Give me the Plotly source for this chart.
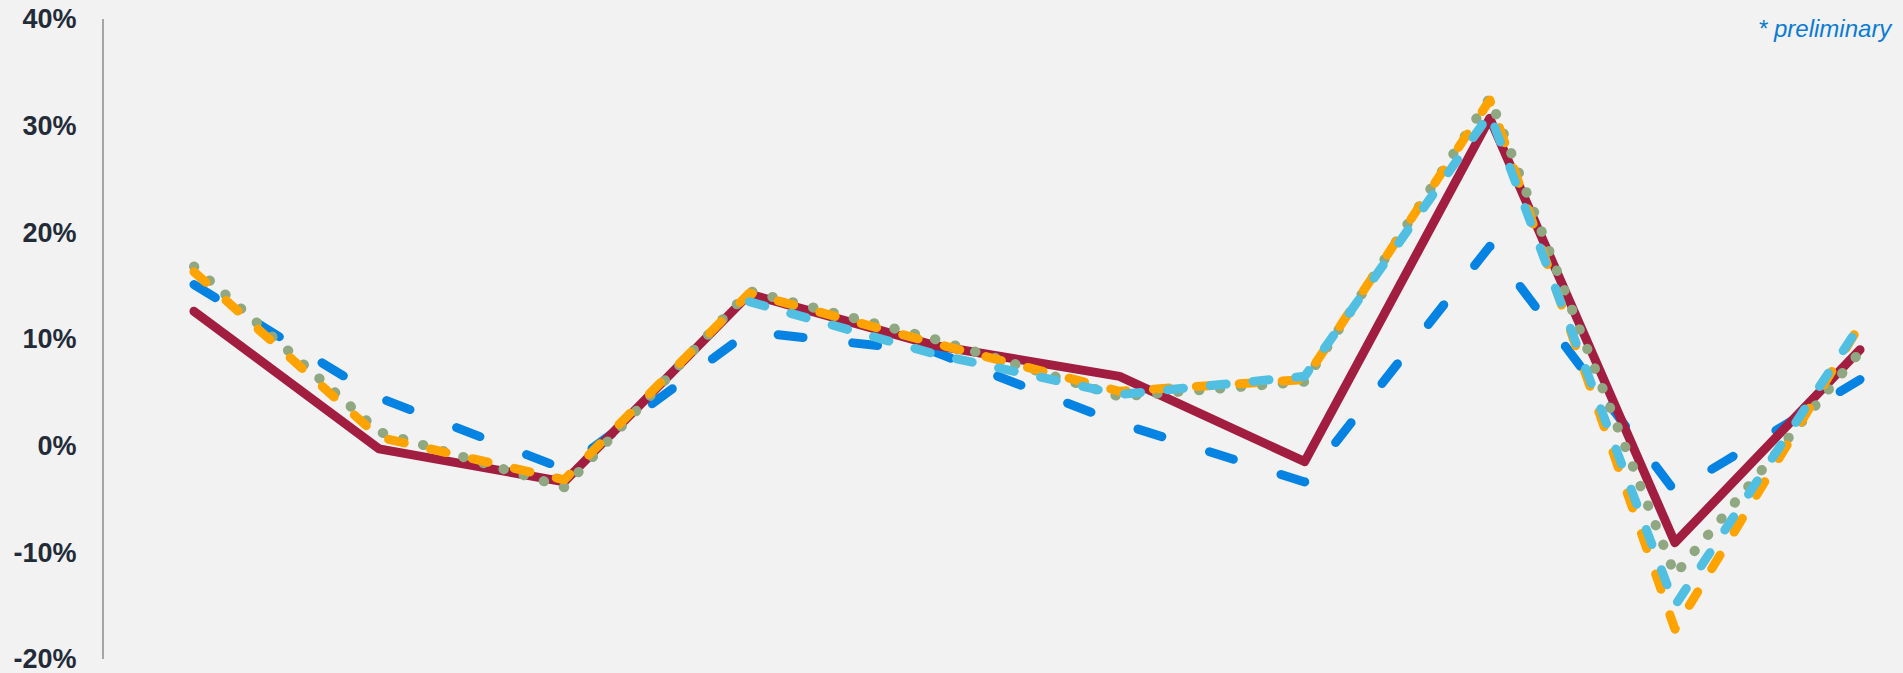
import plotly.graph_objects as go

# Data (percent values)
periods = list(range(10))
series_red = [12.6, -0.3, -3.4, 14.2, 9.4, 6.5, -1.5, 30.7, -9.1, 9.0]
series_blue = [15.1, 4.5, -2.2, 10.7, 8.8, 2.1, -3.4, 18.7, -4.3, 6.2]
series_green = [16.8, 1.3, -3.9, 14.5, 10.0, 4.6, 6.0, 32.6, -12.1, 8.8]
series_orange = [16.3, 0.8, -3.2, 14.3, 9.6, 5.1, 6.2, 32.4, -17.2, 11.3]
series_lightblue = [None, None, None, 13.5, 8.6, 4.8, 6.5, 31.1, -15.0, 11.3]

y_ticks = [-20, -10, 0, 10, 20, 30, 40]
y_tick_labels = ["-20%", "-10%", "0%", "10%", "20%", "30%", "40%"]

fig = go.Figure()

fig.add_trace(go.Scatter(x=periods, y=series_blue, mode="lines",
                         line=dict(color="#0583E2", width=9, dash="25px,50px"),
                         hoverinfo="skip", showlegend=False))
fig.add_trace(go.Scatter(x=periods, y=series_red, mode="lines",
                         line=dict(color="#A21E41", width=9),
                         hoverinfo="skip", showlegend=False))
fig.add_trace(go.Scatter(x=periods, y=series_green, mode="lines",
                         line=dict(color="#8FA882", width=10, dash="0.5px,20.5px"),
                         hoverinfo="skip", showlegend=False))
fig.add_trace(go.Scatter(x=periods, y=series_orange, mode="lines",
                         line=dict(color="#FFA300", width=9, dash="16px,27px"),
                         hoverinfo="skip", showlegend=False))
fig.add_trace(go.Scatter(x=periods, y=series_lightblue, mode="lines",
                         line=dict(color="#50BFE2", width=9, dash="16px,27px"),
                         hoverinfo="skip", showlegend=False))

fig.update_layout(
    width=1903, height=673,
    margin=dict(l=104, r=0, t=19, b=14),
    paper_bgcolor="#F2F2F2",
    plot_bgcolor="#F2F2F2",
    showlegend=False,
    xaxis=dict(visible=False, range=[-0.486, 9.232], fixedrange=True),
    yaxis=dict(
        range=[-20, 40],
        tickvals=y_ticks,
        ticktext=y_tick_labels,
        showgrid=False,
        zeroline=False,
        showline=True,
        linecolor="#A6A6A6",
        linewidth=2,
        ticks="outside",
        ticklen=20,
        tickcolor="rgba(0,0,0,0)",
        ticklabeloverflow="allow",
        tickfont=dict(family="Liberation Sans, Arial, sans-serif", size=27, color="#232B38", weight="bold"),
        fixedrange=True,
    ),
    annotations=[dict(
        text="<i>* preliminary</i>",
        xref="paper", yref="paper", x=1.0, y=1.0,
        xanchor="right", yanchor="middle",
        xshift=-8, yshift=-9,
        showarrow=False,
        font=dict(family="Liberation Sans, Arial, sans-serif", size=24, color="#0A7BD6"),
    )],
)

post = """
var s = document.createElement('style');
s.innerHTML = '.scatterlayer .js-line { stroke-linecap: round; stroke-linejoin: round; }';
document.head.appendChild(s);
"""

fig.write_html("out.html", post_script=post, config={"displayModeBar": False})
